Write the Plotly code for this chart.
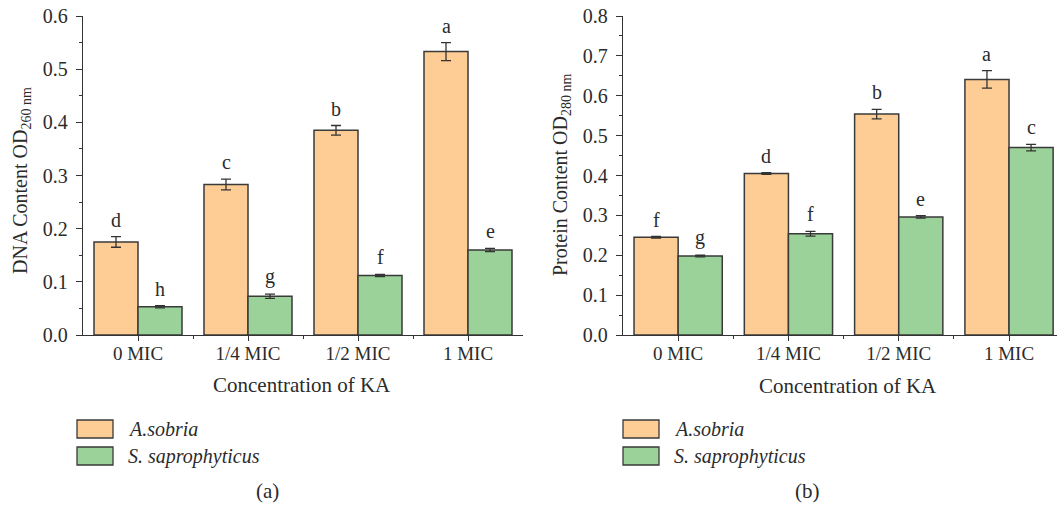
import plotly.graph_objects as go

# ---------------- data ----------------
categories = ["0 MIC", "1/4 MIC", "1/2 MIC", "1 MIC"]
series_names = ["A.sobria", "S. saprophyticus"]

dna_asobria = [0.175, 0.283, 0.385, 0.533]
dna_asobria_err = [0.010, 0.010, 0.009, 0.017]
dna_ssap = [0.053, 0.073, 0.112, 0.160]
dna_ssap_err = [0.002, 0.004, 0.002, 0.003]
dna_asobria_letters = ["d", "c", "b", "a"]
dna_ssap_letters = ["h", "g", "f", "e"]

prot_asobria = [0.245, 0.405, 0.554, 0.641]
prot_asobria_err = [0.002, 0.002, 0.012, 0.022]
prot_ssap = [0.198, 0.254, 0.296, 0.470]
prot_ssap_err = [0.002, 0.006, 0.003, 0.008]
prot_asobria_letters = ["f", "d", "b", "a"]
prot_ssap_letters = ["g", "f", "e", "c"]

dna_ticks = [0.0, 0.1, 0.2, 0.3, 0.4, 0.5, 0.6]
prot_ticks = [0.0, 0.1, 0.2, 0.3, 0.4, 0.5, 0.6, 0.7, 0.8]

# ---------------- style ----------------
W, H = 1058, 506
FONT = "Liberation Serif"
TXT = "#2b2b2b"
LINE = "#333333"
ORANGE = "#FECC95"
GREEN = "#9BD29A"
EDGE = "#3a3a3a"
BW = 0.4


def px(x):
    return x / W


def py(y):
    return 1 - y / H


fig = go.Figure()
idx = list(range(len(categories)))

panels = [
    dict(xa="x", ya="y", a=dna_asobria, ae=dna_asobria_err, s=dna_ssap, se=dna_ssap_err,
         al=dna_asobria_letters, sl=dna_ssap_letters),
    dict(xa="x2", ya="y2", a=prot_asobria, ae=prot_asobria_err, s=prot_ssap, se=prot_ssap_err,
         al=prot_asobria_letters, sl=prot_ssap_letters),
]

annotations = []
for p in panels:
    for vals, errs, letters, color, off, name in [
        (p["a"], p["ae"], p["al"], ORANGE, -BW / 2, series_names[0]),
        (p["s"], p["se"], p["sl"], GREEN, BW / 2, series_names[1]),
    ]:
        xs = [i + off for i in idx]
        fig.add_trace(go.Bar(
            x=xs, y=vals, width=BW, name=name, showlegend=False,
            xaxis=p["xa"], yaxis=p["ya"],
            marker=dict(color=color, line=dict(color=EDGE, width=1.5)),
            error_y=dict(type="data", array=errs, color=LINE, thickness=1.3, width=5),
        ))
        for xv, v, e, t in zip(xs, vals, errs, letters):
            annotations.append(dict(
                x=xv, y=v + e, xref=p["xa"], yref=p["ya"], text=t, showarrow=False,
                yanchor="bottom", yshift=4, font=dict(family=FONT, size=20, color=TXT)))

axis_common = dict(showline=True, linecolor=LINE, linewidth=1.3, showgrid=False, zeroline=False,
                   ticks="outside", tickcolor=LINE, tickwidth=1.3, automargin=False)

xcommon = dict(axis_common, tickmode="array", tickvals=idx, ticktext=categories, ticklen=5,
               ticklabelstandoff=-4,
               tickfont=dict(family=FONT, size=19, color=TXT),
               minor=dict(tickmode="array", tickvals=[i + 0.5 for i in idx[:-1]], ticks="outside",
                          ticklen=3, tickcolor=LINE, tickwidth=1.3))

ycommon = dict(axis_common, tickmode="array", ticklen=6, ticklabelstandoff=4,
               tickfont=dict(family=FONT, size=20, color=TXT),
               minor=dict(dtick=0.05, ticks="outside", ticklen=3, tickcolor=LINE, tickwidth=1.3))

fig.update_layout(
    width=W, height=H, margin=dict(l=0, r=0, t=0, b=0, pad=0, autoexpand=False),
    paper_bgcolor="white", plot_bgcolor="white", barmode="overlay",
    font=dict(family=FONT, size=20, color=TXT),
    xaxis=dict(xcommon, domain=[px(83), px(523)], range=[-0.5, 3.5], anchor="y"),
    yaxis=dict(ycommon, domain=[py(335), py(16)], range=[0, 0.6],
               tickvals=dna_ticks, ticktext=[f"{t:.1f}" for t in dna_ticks], anchor="x"),
    xaxis2=dict(xcommon, domain=[px(623), px(1057)], range=[-0.5, 3.435], anchor="y2"),
    yaxis2=dict(ycommon, domain=[py(335), py(16)], range=[0, 0.8],
                tickvals=prot_ticks, ticktext=[f"{t:.1f}" for t in prot_ticks], anchor="x2"),
)

# axis titles
for xc, yc, text, ang, fs in [
    (302, 385, "Concentration of KA", 0, 21),
    (848, 386, "Concentration of KA", 0, 21),
    (22, 181, "DNA Content OD<sub>260 nm</sub>", -90, 20),
    (561, 175, "Protein Content OD<sub>280 nm</sub>", -90, 20),
]:
    annotations.append(dict(x=px(xc), y=py(yc), xref="paper", yref="paper", text=text,
                            showarrow=False, textangle=ang, xanchor="center", yanchor="middle",
                            font=dict(family=FONT, size=fs, color=TXT)))

# legends (drawn manually) and captions
shapes = []
for lx, cap, capx in [(77, "(a)", 267), (623, "(b)", 807)]:
    for k, (name, color) in enumerate(zip(series_names, [ORANGE, GREEN])):
        y0 = 420 + 27 * k
        shapes.append(dict(type="rect", xref="paper", yref="paper", x0=px(lx), x1=px(lx + 36),
                           y0=py(y0 + 18), y1=py(y0), fillcolor=color,
                           line=dict(color=EDGE, width=1.3)))
        annotations.append(dict(x=px(lx + 49), y=py(y0 + 9), xref="paper", yref="paper",
                                text=f"<i>{name}</i>", showarrow=False, xanchor="left",
                                yanchor="middle", font=dict(family=FONT, size=20, color=TXT)))
    annotations.append(dict(x=px(capx), y=py(491), xref="paper", yref="paper", text=cap,
                            showarrow=False, xanchor="center", yanchor="middle",
                            font=dict(family=FONT, size=21, color=TXT)))

fig.update_layout(annotations=annotations, shapes=shapes)
fig.write_html("out.html", config={"displayModeBar": False},
               post_script="document.body.style.margin='0';document.body.style.overflow='hidden';")
